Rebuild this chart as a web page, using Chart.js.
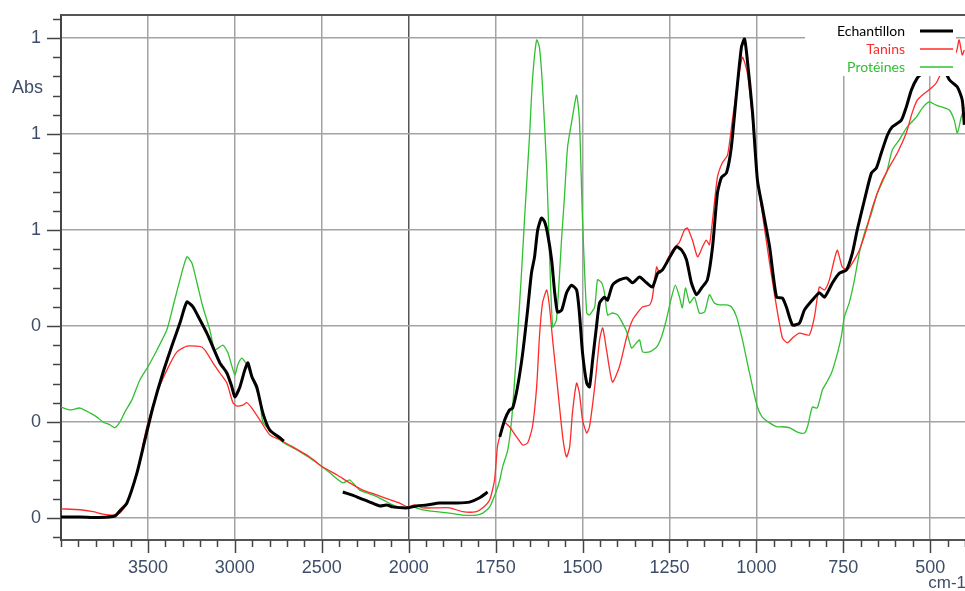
<!DOCTYPE html>
<html>
<head>
<meta charset="utf-8">
<script src="https://cdn.jsdelivr.net/npm/chart.js@4.4.1/dist/chart.umd.min.js"></script>
<style>
  html, body { margin: 0; padding: 0; background: #fff; }
  #wrap { width: 965px; height: 591px; }
</style>
</head>
<body>
<div id="wrap"><canvas id="chart1" width="965" height="591"></canvas></div>
<script>
// spectra: wavenumber (cm-1) and absorbance
const echWave = [4000, 3891, 3776, 3690, 3661, 3621, 3563, 3517, 3471, 3414, 3356, 3316, 3276, 3241, 3201, 3161, 3126, 3086, 3046, 3017, 3000, 2971, 2943, 2925, 2902, 2874, 2839, 2799, 2741, 2718,
    2550,
    2379, 2299, 2224, 2167, 2126, 2092, 2034, 2006, 1977, 1948, 1911, 1862, 1825, 1796, 1773,
    1755,
    1738, 1724, 1710, 1701, 1687, 1672, 1658, 1647, 1638, 1629, 1618, 1609, 1601, 1589, 1580, 1572, 1560, 1546, 1532, 1517, 1509, 1500, 1488, 1480, 1471, 1460, 1451, 1437, 1428, 1414, 1394, 1373, 1356, 1336, 1316, 1299, 1284, 1270, 1250, 1230, 1215, 1201, 1187, 1172, 1158, 1141, 1126, 1112, 1100, 1086, 1072, 1057, 1043, 1034, 1026, 1011, 997, 983, 962, 942, 925, 914, 896, 876, 862, 839, 819, 804, 781, 761, 741, 724, 710, 689, 669, 655, 641, 623, 609, 583, 569, 554, 537, 523, 503, 474, 445, 422, 408, 402];
const echAbs = [0.002, 0.002, 0.001, 0.004, 0.015, 0.031, 0.094, 0.163, 0.231, 0.302, 0.365, 0.406, 0.450, 0.440, 0.413, 0.385, 0.356, 0.323, 0.302, 0.273, 0.252, 0.273, 0.308, 0.323, 0.294, 0.273, 0.219, 0.183, 0.167, 0.160,
    null,
    0.054, 0.044, 0.033, 0.025, 0.027, 0.023, 0.021, 0.021, 0.025, 0.027, 0.031, 0.031, 0.033, 0.042, 0.054,
    null,
    0.169, 0.204, 0.225, 0.229, 0.273, 0.344, 0.433, 0.510, 0.544, 0.600, 0.625, 0.617, 0.594, 0.538, 0.469, 0.429, 0.433, 0.469, 0.485, 0.475, 0.427, 0.344, 0.281, 0.273, 0.329, 0.398, 0.448, 0.460, 0.454, 0.485, 0.496, 0.500, 0.490, 0.502, 0.490, 0.481, 0.510, 0.517, 0.542, 0.565, 0.558, 0.538, 0.490, 0.465, 0.479, 0.496, 0.565, 0.677, 0.710, 0.719, 0.773, 0.885, 0.981, 0.998, 0.954, 0.844, 0.704, 0.648, 0.565, 0.460, 0.458, 0.440, 0.402, 0.406, 0.433, 0.454, 0.469, 0.460, 0.490, 0.510, 0.517, 0.552, 0.600, 0.663, 0.719, 0.729, 0.760, 0.798, 0.815, 0.829, 0.856, 0.892, 0.917, 0.927, 0.950, 0.954, 0.913, 0.898, 0.871, 0.819];

const tanWave = [4000, 3891, 3816, 3759, 3701, 3661, 3621, 3563, 3506, 3448, 3391, 3333, 3276, 3218, 3190, 3161, 3126, 3086, 3046, 3011, 2988, 2954, 2931, 2902, 2856, 2799, 2741, 2667, 2569, 2494, 2414, 2339, 2264, 2184, 2109, 2052, 2006, 1983, 1960, 1920, 1882, 1845, 1805, 1787, 1767, 1753, 1744, 1724, 1710, 1690, 1672, 1658, 1644, 1632, 1624, 1615, 1603, 1595, 1586, 1572, 1557, 1546, 1537, 1529, 1517, 1509, 1500, 1488, 1480, 1465, 1451, 1442, 1431, 1414, 1394, 1373, 1356, 1336, 1327, 1307, 1299, 1287, 1279, 1270, 1256, 1241, 1221, 1207, 1198, 1184, 1169, 1155, 1144, 1135, 1126, 1112, 1098, 1083, 1069, 1054, 1040, 1026, 1011, 997, 983, 962, 942, 925, 911, 896, 876, 848, 833, 819, 804, 790, 776, 767, 753, 738, 724, 704, 684, 666, 641, 618, 595, 569, 552, 537, 523, 503, 483, 465, 445, 425, 417, 408, 402];
const tanAbs = [0.019, 0.017, 0.013, 0.008, 0.006, 0.010, 0.031, 0.094, 0.190, 0.260, 0.308, 0.346, 0.358, 0.358, 0.356, 0.344, 0.323, 0.302, 0.281, 0.240, 0.233, 0.235, 0.240, 0.229, 0.204, 0.173, 0.163, 0.148, 0.127, 0.106, 0.090, 0.073, 0.058, 0.048, 0.038, 0.031, 0.023, 0.027, 0.021, 0.021, 0.021, 0.013, 0.013, 0.021, 0.038, 0.079, 0.152, 0.198, 0.190, 0.169, 0.152, 0.156, 0.190, 0.273, 0.377, 0.448, 0.475, 0.440, 0.371, 0.273, 0.169, 0.127, 0.148, 0.219, 0.281, 0.260, 0.204, 0.177, 0.190, 0.273, 0.371, 0.396, 0.350, 0.283, 0.315, 0.377, 0.413, 0.433, 0.440, 0.444, 0.460, 0.523, 0.510, 0.517, 0.538, 0.558, 0.575, 0.600, 0.604, 0.579, 0.544, 0.565, 0.579, 0.569, 0.621, 0.710, 0.740, 0.756, 0.829, 0.906, 0.960, 0.927, 0.829, 0.704, 0.635, 0.531, 0.440, 0.375, 0.365, 0.375, 0.385, 0.381, 0.419, 0.481, 0.475, 0.496, 0.538, 0.558, 0.523, 0.517, 0.531, 0.558, 0.600, 0.648, 0.698, 0.731, 0.760, 0.802, 0.844, 0.871, 0.881, 0.892, 0.906, 0.933, 0.954, 0.971, 0.996, 0.965, 0.975];

const proWave = [4000, 3948, 3891, 3833, 3793, 3759, 3718, 3690, 3661, 3632, 3592, 3546, 3500, 3448, 3391, 3356, 3316, 3276, 3247, 3218, 3184, 3144, 3115, 3069, 3040, 3000, 2983, 2960, 2931, 2897, 2856, 2839, 2782, 2724, 2626, 2529, 2454, 2379, 2339, 2282, 2207, 2149, 2092, 2034, 1989, 1960, 1920, 1882, 1845, 1805, 1787, 1767, 1747, 1738, 1730, 1715, 1704, 1690, 1675, 1667, 1652, 1644, 1632, 1624, 1615, 1603, 1595, 1586, 1575, 1560, 1552, 1543, 1529, 1517, 1509, 1500, 1488, 1480, 1465, 1457, 1445, 1437, 1428, 1414, 1399, 1385, 1373, 1359, 1345, 1336, 1327, 1307, 1287, 1273, 1259, 1244, 1233, 1221, 1213, 1204, 1192, 1178, 1164, 1149, 1135, 1121, 1106, 1086, 1072, 1057, 1040, 1026, 1011, 997, 983, 962, 942, 925, 905, 882, 862, 853, 839, 825, 810, 799, 784, 770, 756, 747, 733, 718, 704, 689, 669, 652, 626, 609, 589, 566, 540, 523, 503, 483, 465, 445, 431, 422, 411, 402];
const proAbs = [0.231, 0.225, 0.229, 0.219, 0.210, 0.200, 0.194, 0.188, 0.200, 0.221, 0.246, 0.288, 0.315, 0.350, 0.392, 0.440, 0.496, 0.544, 0.531, 0.490, 0.440, 0.392, 0.350, 0.360, 0.344, 0.298, 0.319, 0.333, 0.319, 0.288, 0.246, 0.200, 0.177, 0.158, 0.138, 0.115, 0.094, 0.073, 0.079, 0.058, 0.048, 0.038, 0.027, 0.021, 0.023, 0.017, 0.013, 0.010, 0.006, 0.006, 0.010, 0.023, 0.058, 0.079, 0.106, 0.142, 0.204, 0.344, 0.517, 0.621, 0.802, 0.913, 0.996, 0.981, 0.898, 0.725, 0.552, 0.398, 0.413, 0.585, 0.669, 0.773, 0.835, 0.881, 0.829, 0.621, 0.427, 0.423, 0.440, 0.496, 0.490, 0.469, 0.423, 0.427, 0.423, 0.406, 0.388, 0.354, 0.365, 0.371, 0.346, 0.346, 0.356, 0.377, 0.413, 0.460, 0.485, 0.460, 0.438, 0.479, 0.448, 0.460, 0.427, 0.429, 0.465, 0.448, 0.444, 0.444, 0.440, 0.419, 0.371, 0.323, 0.273, 0.231, 0.210, 0.198, 0.190, 0.190, 0.188, 0.179, 0.177, 0.190, 0.231, 0.229, 0.267, 0.281, 0.302, 0.335, 0.377, 0.419, 0.448, 0.496, 0.552, 0.594, 0.635, 0.677, 0.719, 0.767, 0.788, 0.815, 0.835, 0.854, 0.867, 0.860, 0.856, 0.850, 0.829, 0.802, 0.835, 0.856];

const seriesNames = ['Echantillon', 'Tanins', 'Protéines'];
const seriesColors = ['#000000', '#ff2a2a', '#30c030'];

// axis ticks
const xTickLabels = [3500, 3000, 2500, 2000, 1750, 1500, 1250, 1000, 750, 500];
const yTickValues = [0, 0.2, 0.4, 0.6, 0.8, 1.0];
const yTickLabels = ['0', '0', '0', '1', '1', '1'];

// the instrument halves the scale above 2000 cm-1
function toAxis(w) {
    return w > 2000 ? 2000 + (w - 2000) / 2 : w;
}
function fromAxis(u) {
    return u > 2000 ? 2000 + (u - 2000) * 2 : u;
}
function points(waves, abs) {
    return waves.map((w, i) => ({ x: toAxis(w), y: abs[i] }));
}
function isMajorX(u) {
    return xTickLabels.includes(Math.round(fromAxis(u)));
}
function yIndex(v) {
    return yTickValues.findIndex(t => Math.abs(t - v) < 1e-6);
}

const labelColor = '#3e4d68';
const labelFont = { family: 'Liberation Sans, Arial, sans-serif', size: 18 };

const extras = {
    id: 'extras',
    afterDatasetsDraw(chart) {
        const ctx = chart.ctx;
        const area = chart.chartArea;
        ctx.save();
        // legend, drawn over the plot like the original
        ctx.fillStyle = '#fff';
        ctx.fillRect(area.right - 160, area.top + 1, 151, 60);
        ctx.font = '14px Lato, sans-serif';
        ctx.textAlign = 'right';
        ctx.textBaseline = 'middle';
        chart.data.datasets.forEach((ds, i) => {
            const yy = area.top + 16 + i * 18;
            ctx.fillStyle = ds.borderColor;
            ctx.fillText(ds.label, area.right - 60, yy);
            ctx.strokeStyle = ds.borderColor;
            ctx.lineWidth = i === 0 ? 3 : 1.5;
            ctx.beginPath();
            ctx.moveTo(area.right - 45, yy);
            ctx.lineTo(area.right - 12, yy);
            ctx.stroke();
        });
        ctx.restore();
    },
    afterDraw(chart) {
        const ctx = chart.ctx;
        const area = chart.chartArea;
        const xs = chart.scales.x, ys = chart.scales.y;
        ctx.save();
        ctx.strokeStyle = '#444';
        ctx.lineWidth = 1.5;
        xs.ticks.forEach(t => {
            const px = Math.round(xs.getPixelForValue(t.value)) + 0.5;
            const len = isMajorX(t.value) ? 13 : 7;
            ctx.beginPath();
            ctx.moveTo(px, area.bottom);
            ctx.lineTo(px, area.bottom + len);
            ctx.stroke();
        });
        ys.ticks.forEach(t => {
            const py = Math.round(ys.getPixelForValue(t.value)) + 0.5;
            const len = yIndex(t.value) >= 0 ? 14 : 8;
            ctx.beginPath();
            ctx.moveTo(area.left - len, py);
            ctx.lineTo(area.left, py);
            ctx.stroke();
        });
        // top frame
        ctx.strokeStyle = '#555';
        ctx.lineWidth = 2;
        ctx.beginPath();
        ctx.moveTo(area.left, area.top);
        ctx.lineTo(area.right, area.top);
        ctx.stroke();

        ctx.fillStyle = labelColor;
        ctx.font = '18px Liberation Sans, Arial, sans-serif';
        ctx.textBaseline = 'middle';
        ctx.textAlign = 'left';
        ctx.fillText('Abs', 12, ys.getPixelForValue(0.895));
        ctx.textAlign = 'right';
        ctx.textBaseline = 'alphabetic';
        ctx.font = '17px Liberation Sans, Arial, sans-serif';
        ctx.fillText('cm-1', 966, 588);
        ctx.restore();
    }
};

const data = {
    datasets: [
        { label: seriesNames[0], data: points(echWave, echAbs), borderColor: seriesColors[0], borderWidth: 3 },
        { label: seriesNames[1], data: points(tanWave, tanAbs), borderColor: seriesColors[1], borderWidth: 1.3 },
        { label: seriesNames[2], data: points(proWave, proAbs), borderColor: seriesColors[2], borderWidth: 1.3 }
    ].map(d => Object.assign(d, { pointRadius: 0, tension: 0.2, spanGaps: false, fill: false }))
};
// draw black on top
data.datasets.forEach((d, i) => d.order = i);

const config = {
    type: 'line',
    data: data,
    options: {
        responsive: false,
        animation: false,
        layout: { padding: { top: 15, left: 0, right: 0, bottom: 0 } },
        plugins: { legend: { display: false }, tooltip: { enabled: false } },
        scales: {
            x: {
                type: 'linear',
                reverse: true,
                min: 400,
                max: 3000,
                afterBuildTicks: scale => {
                    const ticks = [];
                    for (let u = 400; u <= 3000; u += 50) ticks.push({ value: u });
                    scale.ticks = ticks;
                },
                afterFit: scale => {
                    scale.height = 51;
                    scale.paddingLeft = 0;
                    scale.paddingRight = 0;
                },
                ticks: {
                    autoSkip: false,
                    maxRotation: 0,
                    padding: 17,
                    color: labelColor,
                    font: labelFont,
                    callback: v => isMajorX(v) ? String(Math.round(fromAxis(v))) : ''
                },
                grid: {
                    drawTicks: false,
                    lineWidth: 1.5,
                    color: c => {
                        if (!c.tick || !isMajorX(c.tick.value)) return 'rgba(0,0,0,0)';
                        return Math.round(fromAxis(c.tick.value)) === 2000 ? '#555' : '#a3a3a3';
                    }
                },
                border: { display: true, color: '#555', width: 2 }
            },
            y: {
                min: -0.046,
                max: 1.048,
                afterBuildTicks: scale => {
                    const ticks = [];
                    for (let k = -1; k <= 26; k++) ticks.push({ value: k * 0.04 });
                    scale.ticks = ticks;
                },
                afterFit: scale => {
                    scale.width = 61;
                    scale.paddingTop = 0;
                    scale.paddingBottom = 0;
                },
                ticks: {
                    autoSkip: false,
                    padding: 20,
                    color: labelColor,
                    font: labelFont,
                    callback: v => {
                        const i = yIndex(v);
                        return i >= 0 ? yTickLabels[i] : '';
                    }
                },
                grid: {
                    drawTicks: false,
                    lineWidth: 1.5,
                    color: c => c.tick && yIndex(c.tick.value) >= 0 ? '#a3a3a3' : 'rgba(0,0,0,0)'
                },
                border: { display: true, color: '#444', width: 2 }
            }
        }
    },
    plugins: [extras]
};

const myChart = new Chart(document.getElementById('chart1'), config);
</script>
</body>
</html>
